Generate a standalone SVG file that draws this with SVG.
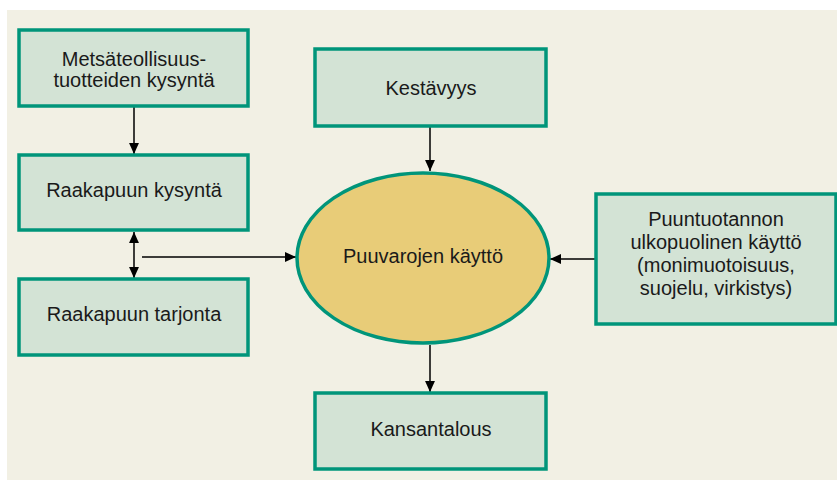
<svg xmlns="http://www.w3.org/2000/svg" width="837" height="480" viewBox="0 0 837 480">
<defs>
<marker id="ah" viewBox="0 0 10 10" refX="10" refY="5" markerWidth="11" markerHeight="11" markerUnits="userSpaceOnUse" orient="auto-start-reverse">
<path d="M0,0.5 L10,5 L0,9.5 z" fill="#000"/>
</marker>
<style>
.box{fill:#d3e3d5;stroke:#00957a;stroke-width:3.5}
.ell{fill:#e8cc78;stroke:#00957a;stroke-width:3.5}
.t{font-family:"Liberation Sans",Arial,sans-serif;font-size:20px;fill:#1a1a1a;text-anchor:middle}
.c{stroke:#000;stroke-width:1.5;fill:none}
</style>
</defs>
<rect x="7" y="10" width="830" height="470" fill="#f2f0e4"/>
<g id="connectors">
<line class="c" x1="134" y1="107" x2="134" y2="154" marker-end="url(#ah)"/>
<line class="c" x1="134" y1="232" x2="134" y2="278" marker-start="url(#ah)" marker-end="url(#ah)"/>
<line class="c" x1="142" y1="257" x2="296" y2="257" marker-end="url(#ah)"/>
<line class="c" x1="430" y1="127" x2="430" y2="171" marker-end="url(#ah)"/>
<line class="c" x1="595" y1="259" x2="550" y2="259" marker-end="url(#ah)"/>
<line class="c" x1="430" y1="345" x2="430" y2="392" marker-end="url(#ah)"/>
</g>
<g id="n-metsateollisuus">
<rect class="box" x="19" y="30" width="229" height="76"/>
<text class="t" x="134" y="66">Metsäteollisuus-</text>
<text class="t" x="134" y="87">tuotteiden kysyntä</text>
</g>
<g id="n-kysynta">
<rect class="box" x="19" y="155" width="229" height="75"/>
<text class="t" x="134" y="197">Raakapuun kysyntä</text>
</g>
<g id="n-tarjonta">
<rect class="box" x="19" y="279" width="229" height="76"/>
<text class="t" x="134" y="321">Raakapuun tarjonta</text>
</g>
<g id="n-kestavyys">
<rect class="box" x="315" y="49" width="231" height="77"/>
<text class="t" x="431" y="95">Kestävyys</text>
</g>
<g id="n-puuvarojen">
<ellipse class="ell" cx="423" cy="258" rx="126" ry="85"/>
<text class="t" x="423" y="263">Puuvarojen käyttö</text>
</g>
<g id="n-ulkopuolinen">
<rect class="box" x="596" y="194" width="240" height="130"/>
<text class="t" x="716" y="226">Puuntuotannon</text>
<text class="t" x="716" y="249">ulkopuolinen käyttö</text>
<text class="t" x="716" y="272">(monimuotoisuus,</text>
<text class="t" x="716" y="295">suojelu, virkistys)</text>
</g>
<g id="n-kansantalous">
<rect class="box" x="315" y="393" width="231" height="76"/>
<text class="t" x="431" y="436">Kansantalous</text>
</g>
</svg>
